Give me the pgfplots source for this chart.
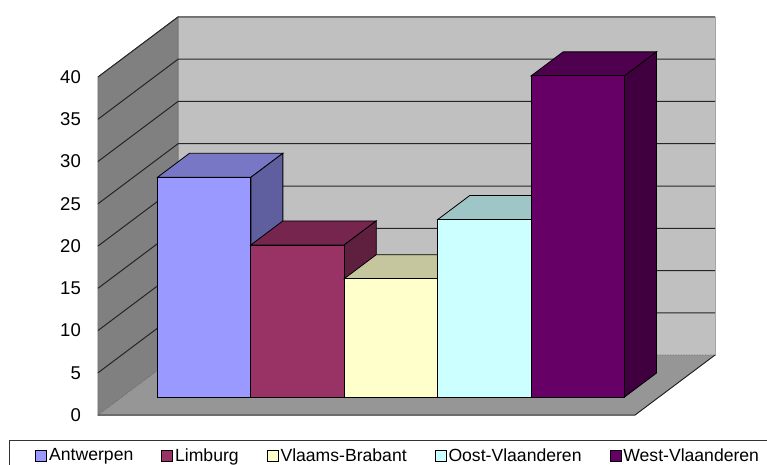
\documentclass[border=0pt]{standalone}
\usepackage{fontspec}
\setmainfont{Liberation Sans}
\usepackage{pgfplots}
\pgfplotsset{compat=1.18}
\definecolor{AntF}{HTML}{9999FF}
\definecolor{AntT}{HTML}{7777C6}
\definecolor{AntS}{HTML}{5F5FA0}
\definecolor{LimF}{HTML}{993366}
\definecolor{LimT}{HTML}{76264E}
\definecolor{LimS}{HTML}{5F1F3F}
\definecolor{VlaF}{HTML}{FFFFCC}
\definecolor{VlaT}{HTML}{C6C69E}
\definecolor{VlaS}{HTML}{A0A080}
\definecolor{OosF}{HTML}{CCFFFF}
\definecolor{OosT}{HTML}{9EC6C6}
\definecolor{OosS}{HTML}{80A0A0}
\definecolor{WesF}{HTML}{660066}
\definecolor{WesT}{HTML}{4F004F}
\definecolor{WesS}{HTML}{400040}
\definecolor{backwall}{HTML}{C0C0C0}
\definecolor{sidewall}{HTML}{808080}
\definecolor{floorc}{HTML}{969696}
% one cuboid: #1 left x, #2 right x, #3 value, #4 colour prefix
\newcommand{\cuboid}[4]{%
  \addplot3[fill=#4T, draw=black, line width=0.8pt, forget plot]
    coordinates {(#1,0.3,#3) (#2,0.3,#3) (#2,0.7,#3) (#1,0.7,#3)} -- cycle;
  \addplot3[fill=#4S, draw=black, line width=0.8pt, forget plot]
    coordinates {(#2,0.3,0) (#2,0.7,0) (#2,0.7,#3) (#2,0.3,#3)} -- cycle;
  \addplot3[fill=#4F, draw=black, line width=0.8pt]
    coordinates {(#1,0.3,0) (#2,0.3,0) (#2,0.3,#3) (#1,0.3,#3)} -- cycle;
}
\begin{document}
\begin{tikzpicture}
\begin{axis}[
  x={(93.4pt,0pt)}, y={(80pt,60pt)}, z={(0pt,8.45pt)},
  xmin=0.12, xmax=5.87, ymin=0, ymax=1, zmin=0, zmax=40,
  hide axis, clip=false,
  legend columns=5,
  legend image code/.code={\draw[#1, draw=black, line width=0.8pt] (0pt,-5.5pt) rectangle (11pt,5.5pt);},
  legend style={at={(axis cs:0.12,0,0)}, anchor=north west, xshift=-89pt, yshift=-25pt,
    draw=black!80, line width=0.8pt, inner xsep=26pt, inner ysep=6pt,
    font=\fontsize{17.6}{20}\selectfont,
    nodes={inner sep=2pt},
    /tikz/every even column/.append style={column sep=26pt}},
]
\coordinate (O) at (axis cs:0.12,0,0);
% walls and floor
\addplot3[fill=backwall, draw=black!35, line width=0.8pt, forget plot]
  coordinates {(0.12,1,0) (5.87,1,0) (5.87,1,40) (0.12,1,40)} -- cycle;
\addplot3[fill=sidewall, draw=black!55, line width=0.8pt, forget plot]
  coordinates {(0.12,0,0) (0.12,1,0) (0.12,1,40) (0.12,0,40)} -- cycle;
\addplot3[fill=floorc, draw=none, forget plot]
  coordinates {(0.12,0,0) (5.87,0,0) (5.87,1,0) (0.12,1,0)} -- cycle;
\addplot3[draw=black!85, line width=1pt, forget plot]
  coordinates {(0.12,0,0) (5.87,0,0) (5.87,1,0)};
\addplot3[draw=black!60, line width=0.6pt, densely dotted, forget plot]
  coordinates {(0.12,0,0) (0.12,1,0) (5.87,1,0)};
% gridlines
\pgfplotsinvokeforeach{5,10,...,40}{
  \addplot3[draw=black!85, line width=1pt, forget plot]
    coordinates {(0.12,0,#1) (0.12,1,#1) (5.87,1,#1)};
}
% bars
\cuboid{0.5}{1.5}{26}{Ant}
\addlegendentry{Antwerpen}
\cuboid{1.5}{2.5}{18}{Lim}
\addlegendentry{Limburg}
\cuboid{2.5}{3.5}{14}{Vla}
\addlegendentry{Vlaams-Brabant}
\cuboid{3.5}{4.5}{21}{Oos}
\addlegendentry{Oost-Vlaanderen}
\cuboid{4.5}{5.5}{38}{Wes}
\addlegendentry{West-Vlaanderen}
% value labels
\pgfplotsinvokeforeach{0,5,...,40}{
  \node[anchor=east, inner sep=0pt, xshift=-17pt, font=\fontsize{18.5}{20}\selectfont]
    at (axis cs:0.12,0,#1) {#1};
}
\end{axis}
\pgfresetboundingbox
\path ([shift={(-98pt,-49pt)}]O) rectangle ++(767pt,464pt);
\end{tikzpicture}
\end{document}
